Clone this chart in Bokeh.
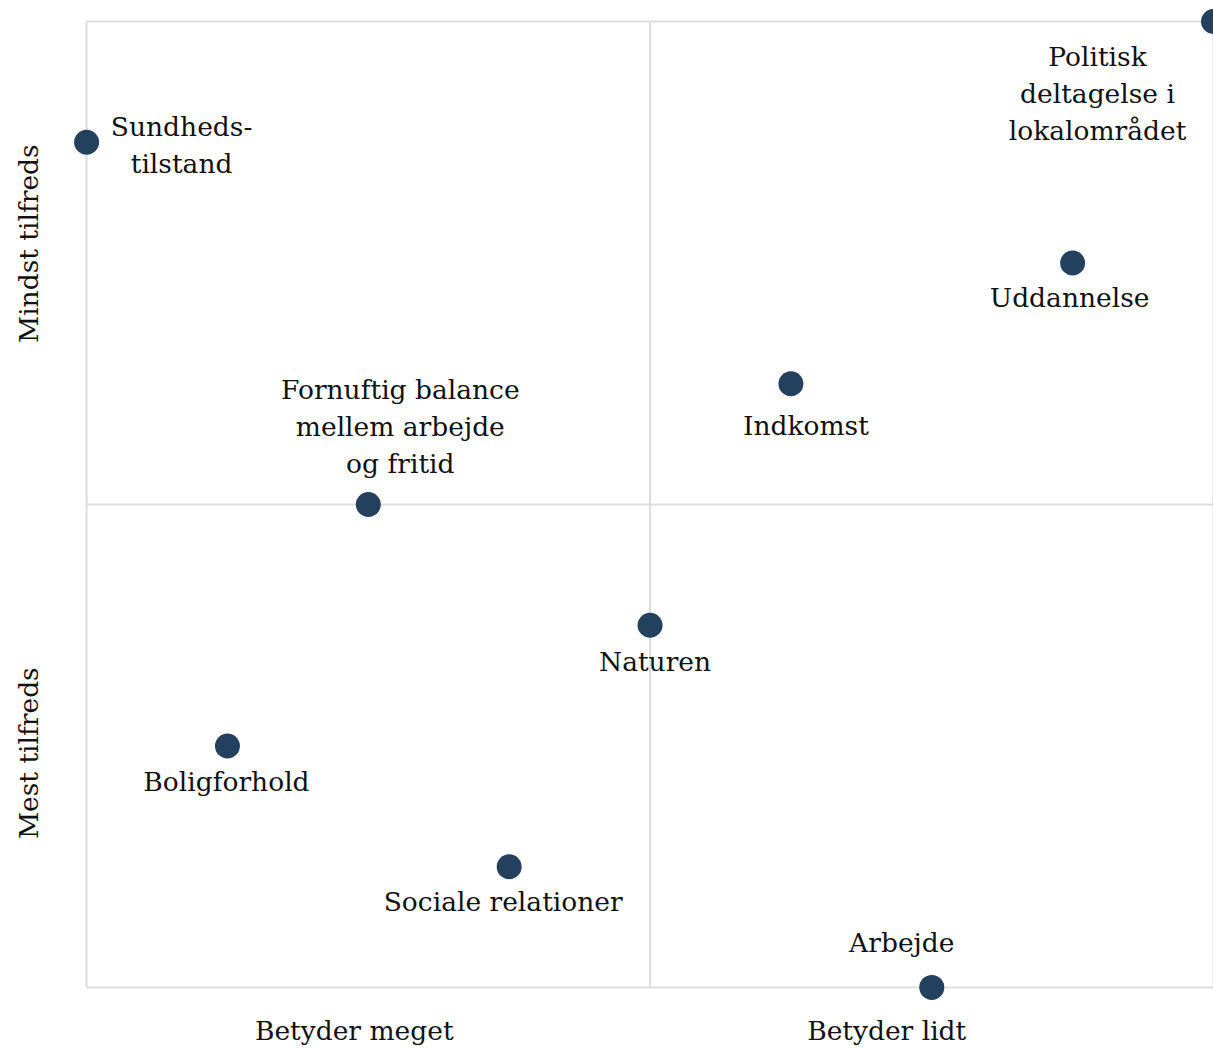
from bokeh.plotting import figure
from bokeh.models import Range1d, FixedTicker, ColumnDataSource
from bokeh.core.properties import value
from bokeh.embed import file_html
from bokeh.resources import INLINE

# Data
labels = ["Sundheds-\ntilstand", "Politisk\ndeltagelse i\nlokalområdet", "Uddannelse",
          "Indkomst", "Fornuftig balance\nmellem arbejde\nog fritid", "Naturen",
          "Boligforhold", "Sociale relationer", "Arbejde"]
importance = [1, 9, 8, 6, 3, 5, 2, 4, 7]       # x: rank (low = betyder meget)
dissatisfaction = [8, 9, 7, 6, 5, 4, 3, 2, 1]  # y: rank (high = mindst tilfreds)

x_tick_pos = [2.9, 6.68]
x_tick_labels = ["Betyder meget", "Betyder lidt"]
y_tick_pos = [7.16, 2.94]
y_tick_labels = ["Mindst tilfreds", "Mest tilfreds"]

quadrant_lines = [1, 5, 9]

# label offsets in pixels (layout only)
dx = [95, -116, -3, 15, 32, 5, -1, -6, -30]
dy = [3, 72, 35, 42, -78, 36, 36, 35, -45]

FONT = "DejaVu Serif"
FS = "26.5px"

src = ColumnDataSource(dict(x=importance, y=dissatisfaction, label=labels, dx=dx, dy=dy))

lo, hi = min(quadrant_lines), max(quadrant_lines)
p = figure(width=1213, height=1048, output_backend="svg", toolbar_location=None,
           x_range=Range1d(0.9, 9.0), y_range=Range1d(0.892, 9.174),
           min_border_left=72, min_border_right=0, min_border_top=0, min_border_bottom=48)
p.outline_line_color = None
p.background_fill_color = "white"
p.border_fill_color = "white"
p.grid.visible = False

for ax in (p.xaxis[0], p.yaxis[0]):
    ax.axis_line_color = None
    ax.major_tick_line_color = None
    ax.minor_tick_line_color = None
    ax.major_label_text_font = FONT
    ax.major_label_text_font_size = FS
    ax.major_label_text_color = "#111111"

p.xaxis[0].ticker = FixedTicker(ticks=x_tick_pos)
p.xaxis[0].major_label_overrides = {v: t for v, t in zip(x_tick_pos, x_tick_labels)}
p.xaxis[0].major_label_standoff = 8
p.yaxis[0].ticker = FixedTicker(ticks=y_tick_pos)
p.yaxis[0].major_label_overrides = {v: t for v, t in zip(y_tick_pos, y_tick_labels)}
p.yaxis[0].major_label_orientation = "vertical"
p.yaxis[0].major_label_standoff = 22

# quadrant box lines
p.segment(x0=quadrant_lines, y0=[lo] * 3, x1=quadrant_lines, y1=[hi] * 3,
          line_color="#dddddd", line_width=2)
p.segment(x0=[lo] * 3, y0=quadrant_lines, x1=[hi] * 3, y1=quadrant_lines,
          line_color="#dddddd", line_width=2)

p.scatter("x", "y", source=src, size=25, color="#23405f", line_color=None)
p.text("x", "y", text="label", source=src, x_offset="dx", y_offset="dy",
       text_align="center", text_baseline="middle", text_font=value(FONT),
       text_font_size=FS, text_color="#111111", text_line_height=1.2)

open("out.html", "w").write(file_html(p, INLINE))
